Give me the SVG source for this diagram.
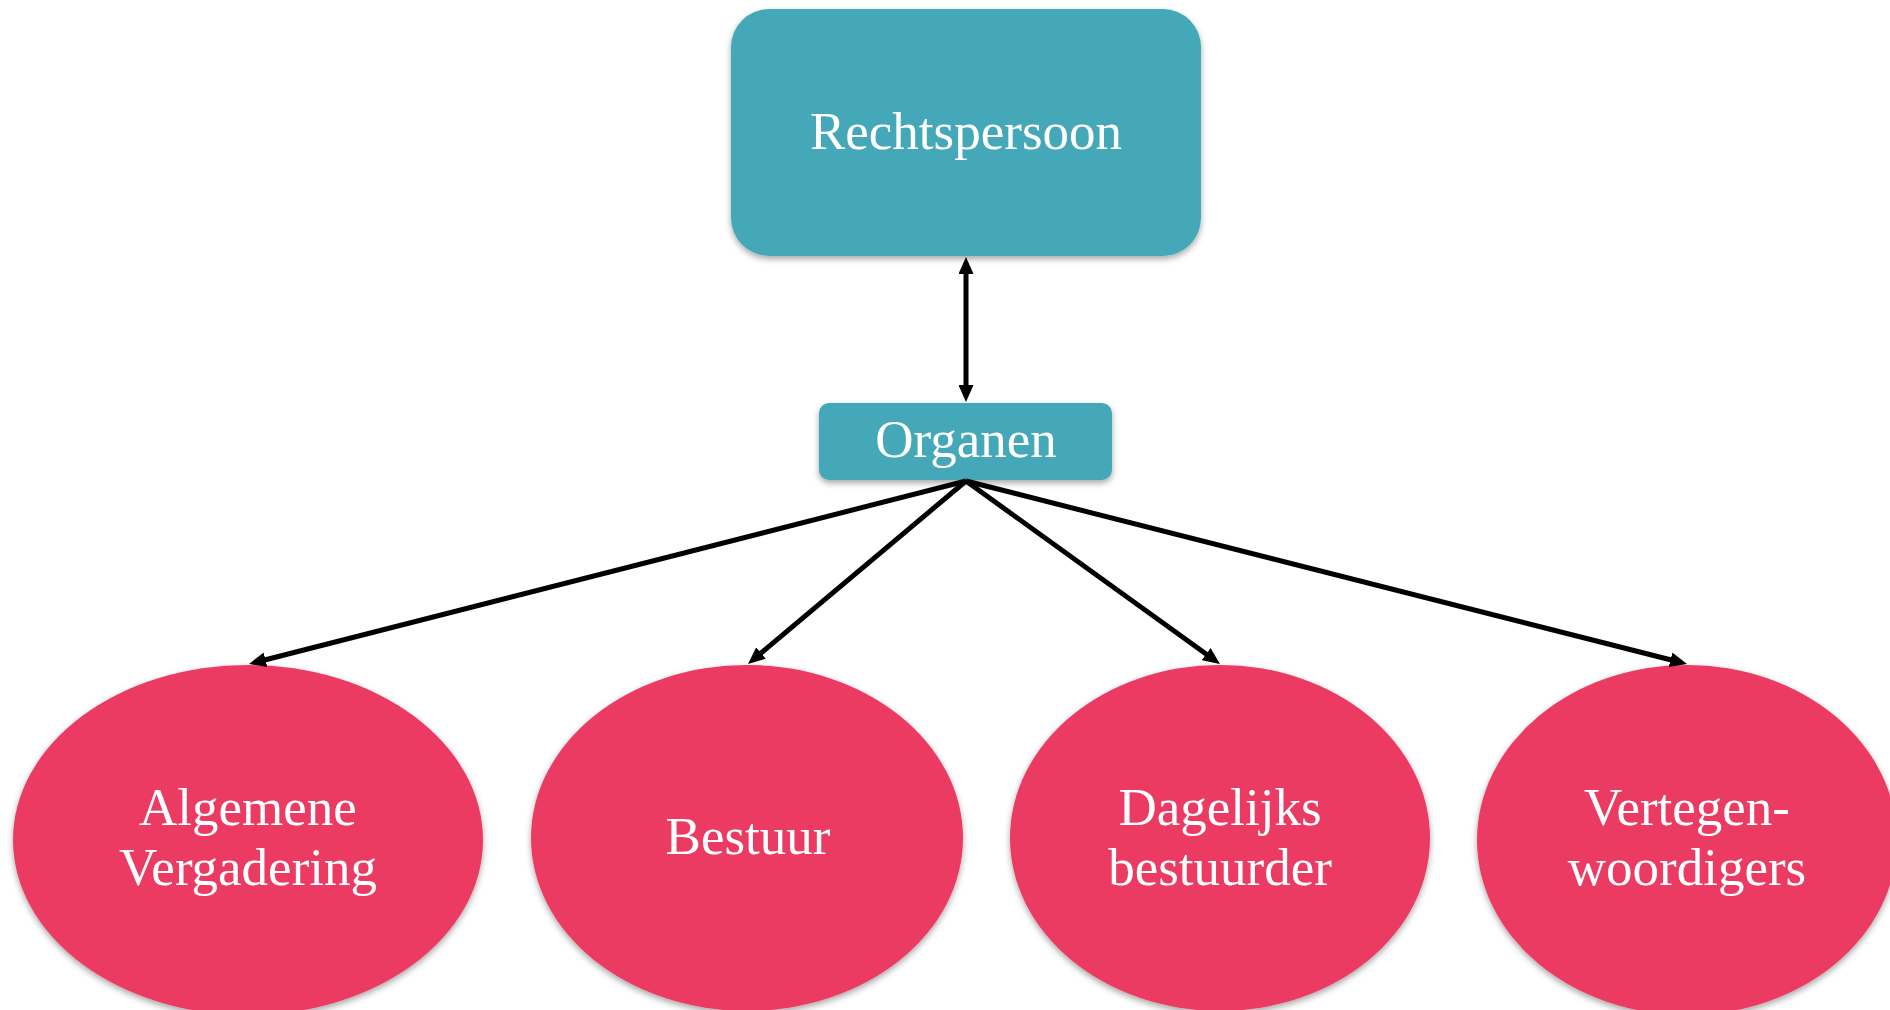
<svg xmlns="http://www.w3.org/2000/svg" width="1890" height="1010" viewBox="0 0 1890 1010">
<style>
.box{fill:#45A8B8;filter:url(#sh)}
.ell{fill:#EC3B62;filter:url(#sh)}
.lbl{font-family:"Liberation Serif","Times New Roman",serif;font-size:53px;fill:#ffffff;text-anchor:middle}
.con{stroke:#000;stroke-width:5;fill:none}
</style>
<defs>
<filter id="sh" x="-10%" y="-10%" width="120%" height="130%">
<feDropShadow dx="0" dy="3" stdDeviation="3" flood-color="#000" flood-opacity="0.35"/>
</filter>
<marker id="ah" viewBox="0 0 17 15" refX="11" refY="7.5" markerWidth="17" markerHeight="15" markerUnits="userSpaceOnUse" orient="auto-start-reverse">
<path d="M0,0 L17,7.5 L0,15 z" fill="#000"/>
</marker>
</defs>
<rect width="1890" height="1010" fill="#fff"/>
<g id="rechtspersoon">
<rect class="box" x="731" y="9" width="470" height="247" rx="38" ry="38"/>
<text class="lbl" x="966" y="149">Rechtspersoon</text>
</g>
<g id="organen">
<rect class="box" x="819" y="403" width="293" height="77" rx="10" ry="10"/>
<text class="lbl" x="966" y="457">Organen</text>
</g>
<g id="algemene-vergadering">
<ellipse class="ell" cx="248" cy="840" rx="235" ry="175"/>
<text class="lbl" x="248" y="825">Algemene</text>
<text class="lbl" x="248" y="885">Vergadering</text>
</g>
<g id="bestuur">
<ellipse class="ell" cx="747" cy="838" rx="216" ry="173"/>
<text class="lbl" x="748" y="854">Bestuur</text>
</g>
<g id="dagelijks-bestuurder">
<ellipse class="ell" cx="1220" cy="838" rx="210" ry="173"/>
<text class="lbl" x="1220" y="825">Dagelijks</text>
<text class="lbl" x="1220" y="885">bestuurder</text>
</g>
<g id="vertegenwoordigers">
<ellipse class="ell" cx="1687" cy="840" rx="210" ry="175"/>
<text class="lbl" x="1687" y="825">Vertegen-</text>
<text class="lbl" x="1687" y="885">woordigers</text>
</g>
<g id="connectors">
<line class="con" x1="966" y1="263" x2="966" y2="396" marker-start="url(#ah)" marker-end="url(#ah)"/>
<line class="con" x1="966" y1="481" x2="254.8" y2="662.5" marker-end="url(#ah)"/>
<line class="con" x1="966" y1="481" x2="752.6" y2="660.1" marker-end="url(#ah)"/>
<line class="con" x1="966" y1="481" x2="1215.1" y2="660.5" marker-end="url(#ah)"/>
<line class="con" x1="966" y1="481" x2="1681.2" y2="662.5" marker-end="url(#ah)"/>
</g>
</svg>
